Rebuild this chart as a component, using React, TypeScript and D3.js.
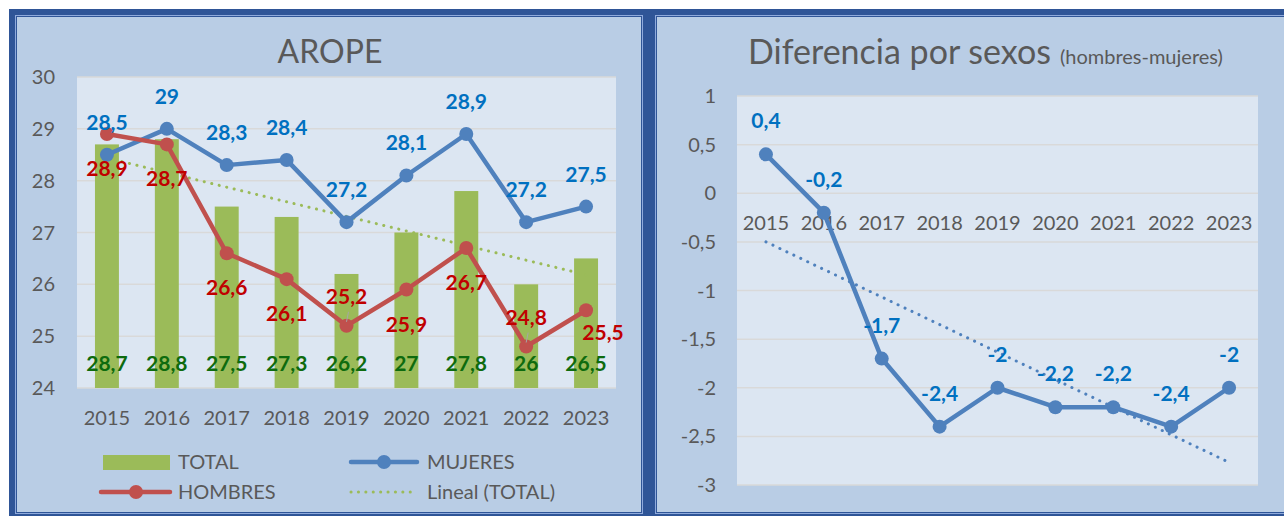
import React from 'react';
import * as d3 from 'd3';

const years = ['2015', '2016', '2017', '2018', '2019', '2020', '2021', '2022', '2023'];
const total = [28.7, 28.8, 27.5, 27.3, 26.2, 27, 27.8, 26, 26.5];
const mujeres = [28.5, 29, 28.3, 28.4, 27.2, 28.1, 28.9, 27.2, 27.5];
const hombres = [28.9, 28.7, 26.6, 26.1, 25.2, 25.9, 26.7, 24.8, 25.5];
const hombresLabelPos = ['below', 'below', 'below', 'below', 'above', 'below', 'below', 'above', 'belowRight'];
const diferencia = [0.4, -0.2, -1.7, -2.4, -2, -2.2, -2.2, -2.4, -2];
const leftTicks = [24, 25, 26, 27, 28, 29, 30];
const rightTicks = [1, 0.5, 0, -0.5, -1, -1.5, -2, -2.5, -3];

const FONT = 'Lato, Carlito, "Open Sans", sans-serif';
const GREY = '#595959';
const BG = '#B9CDE5';
const PLOT_BG = '#DCE6F2';
const GRID = '#D9D9D9';
const DARK = '#2F5597';
const GREEN = '#9BBB59';
const BLUE = '#4F81BD';
const RED = '#C0504D';
const BLUE_TXT = '#0070C0';
const RED_TXT = '#C00000';
const GREEN_TXT = '#0E6B0E';
const LBL = 21;

const fmt = (v: number) => String(v).replace('.', ',');

function linReg(vals: number[]) {
  const n = vals.length;
  const mx = (n - 1) / 2;
  const my = d3.mean(vals) as number;
  let num = 0, den = 0;
  vals.forEach((v, i) => { num += (i - mx) * (v - my); den += (i - mx) * (i - mx); });
  const slope = num / den;
  return (i: number) => my + slope * (i - mx);
}

function Panel({ x, w }: { x: number; w: number }) {
  const y = 9, h = 511;
  return (
    <g>
      <rect x={x} y={y} width={w} height={h} fill={DARK} />
      <rect x={x + 6} y={y + 6} width={w - 12} height={h - 12} fill="#8FAADC" />
      <rect x={x + 7} y={y + 7} width={w - 14} height={h - 14} fill={DARK} />
      <rect x={x + 8} y={y + 8} width={w - 16} height={h - 16} fill={BG} />
    </g>
  );
}

function LeftChart() {
  const xs = d3.scaleBand<string>().domain(years).range([77, 616]).padding(0);
  const ys = d3.scaleLinear().domain([24, 30]).range([388, 77]);
  const cx = (i: number) => (xs(years[i]) as number) + xs.bandwidth() / 2;
  const bw = xs.bandwidth() * 0.4;
  const line = d3.line<number>().x((_, i) => cx(i)).y(d => ys(d));
  const trend = linReg(total);
  return (
    <g fontFamily={FONT}>
      <text x={330} y={63} textAnchor="middle" fontSize={32} fill={GREY}>AROPE</text>
      <rect x={77} y={77} width={539} height={311} fill={PLOT_BG} />
      {leftTicks.map(t => (
        <g key={t}>
          <line x1={77} x2={616} y1={ys(t)} y2={ys(t)} stroke={GRID} strokeWidth={1.5} />
          <text x={55} y={ys(t) + 7} textAnchor="end" fontSize={20} fill={GREY}>{t}</text>
        </g>
      ))}
      {total.map((v, i) => (
        <rect key={i} x={cx(i) - bw / 2} y={ys(v)} width={bw} height={ys(24) - ys(v)} fill={GREEN} />
      ))}
      {years.map((yr, i) => (
        <text key={yr} x={cx(i)} y={425} textAnchor="middle" fontSize={20} fill={GREY}>{yr}</text>
      ))}
      <line x1={cx(0)} x2={cx(8)} y1={ys(trend(0))} y2={ys(trend(8))} stroke={GREEN} strokeWidth={3}
        strokeDasharray="0.1 7.6" strokeLinecap="round" />
      <path d={line(mujeres) as string} fill="none" stroke={BLUE} strokeWidth={4.5} strokeLinejoin="round" />
      {mujeres.map((v, i) => <circle key={i} cx={cx(i)} cy={ys(v)} r={7} fill={BLUE} />)}
      <path d={line(hombres) as string} fill="none" stroke={RED} strokeWidth={4.5} strokeLinejoin="round" />
      {hombres.map((v, i) => <circle key={i} cx={cx(i)} cy={ys(v)} r={7} fill={RED} />)}
      {total.map((v, i) => (
        <text key={i} x={cx(i)} y={371} textAnchor="middle" fontSize={LBL} fontWeight="bold" fill={GREEN_TXT}>{fmt(v)}</text>
      ))}
      {mujeres.map((v, i) => (
        <text key={i} x={cx(i)} y={ys(v) - 25} textAnchor="middle" fontSize={LBL} fontWeight="bold" fill={BLUE_TXT}>{fmt(v)}</text>
      ))}
      {hombres.map((v, i) => {
        const pos = hombresLabelPos[i];
        const py = ys(v);
        if (pos === 'above') {
          return (
            <g key={i}>
              <line x1={cx(i)} y1={py - 4} x2={cx(i) + 2} y2={py - 14} stroke="#A6A6A6" strokeWidth={1} />
              <text x={cx(i)} y={py - 22} textAnchor="middle" fontSize={LBL} fontWeight="bold" fill={RED_TXT}>{fmt(v)}</text>
            </g>
          );
        }
        if (pos === 'belowRight') {
          return <text key={i} x={cx(i) + 17} y={py + 30} textAnchor="middle" fontSize={LBL} fontWeight="bold" fill={RED_TXT}>{fmt(v)}</text>;
        }
        return <text key={i} x={cx(i)} y={py + 42} textAnchor="middle" fontSize={LBL} fontWeight="bold" fill={RED_TXT}>{fmt(v)}</text>;
      })}
      {/* legend */}
      <rect x={103} y={455} width={67} height={15} fill={GREEN} />
      <text x={178} y={469} fontSize={20} fill={GREY}>TOTAL</text>
      <line x1={351} x2={417} y1={462} y2={462} stroke={BLUE} strokeWidth={4.5} strokeLinecap="round" />
      <circle cx={384} cy={462} r={7} fill={BLUE} />
      <text x={427} y={469} fontSize={20} fill={GREY}>MUJERES</text>
      <line x1={101} x2={170} y1={492} y2={492} stroke={RED} strokeWidth={4.5} strokeLinecap="round" />
      <circle cx={136} cy={492} r={7} fill={RED} />
      <text x={178} y={499} fontSize={20} fill={GREY}>HOMBRES</text>
      <line x1={351} x2={417} y1={492} y2={492} stroke={GREEN} strokeWidth={3} strokeDasharray="0.1 7.3" strokeLinecap="round" />
      <text x={427} y={499} fontSize={20} fill={GREY}>Lineal (TOTAL)</text>
    </g>
  );
}

function RightChart() {
  const xs = d3.scaleBand<string>().domain(years).range([737, 1258]).padding(0);
  const ys = d3.scaleLinear().domain([-3, 1]).range([485, 96]);
  const cx = (i: number) => (xs(years[i]) as number) + xs.bandwidth() / 2;
  const line = d3.line<number>().x((_, i) => cx(i)).y(d => ys(d));
  const trend = linReg(diferencia);
  return (
    <g fontFamily={FONT}>
      <text x={748} y={64} fontSize={34} fill={GREY}>
        Diferencia por sexos<tspan fontSize={20} dx={9}>(hombres-mujeres)</tspan>
      </text>
      <rect x={737} y={96} width={521} height={389} fill={PLOT_BG} />
      {rightTicks.map(t => (
        <g key={t}>
          <line x1={737} x2={1258} y1={ys(t)} y2={ys(t)} stroke={GRID} strokeWidth={1.5} />
          <text x={716} y={ys(t) + 7} textAnchor="end" fontSize={20} fill={GREY}>{fmt(t)}</text>
        </g>
      ))}
      {years.map((yr, i) => (
        <text key={yr} x={cx(i)} y={ys(0) + 37} textAnchor="middle" fontSize={20} fill={GREY}>{yr}</text>
      ))}
      <line x1={cx(0)} x2={cx(8)} y1={ys(trend(0))} y2={ys(trend(8))} stroke={BLUE} strokeWidth={3}
        strokeDasharray="0.1 7.6" strokeLinecap="round" />
      <path d={line(diferencia) as string} fill="none" stroke={BLUE} strokeWidth={4.5} strokeLinejoin="round" />
      {diferencia.map((v, i) => <circle key={i} cx={cx(i)} cy={ys(v)} r={7} fill={BLUE} />)}
      {diferencia.map((v, i) => (
        <text key={i} x={cx(i)} y={ys(v) - 26} textAnchor="middle" fontSize={LBL} fontWeight="bold" fill={BLUE_TXT}>{fmt(v)}</text>
      ))}
    </g>
  );
}

export default function App() {
  return (
    <div style={{ position: 'absolute', left: 0, top: 0 }}>
      <svg width={1284} height={516} style={{ display: 'block' }}>
        <rect x={0} y={0} width={1284} height={516} fill="#FFFFFF" />
        <Panel x={9} w={640} />
        <Panel x={649} w={660} />
        <LeftChart />
        <RightChart />
      </svg>
    </div>
  );
}
